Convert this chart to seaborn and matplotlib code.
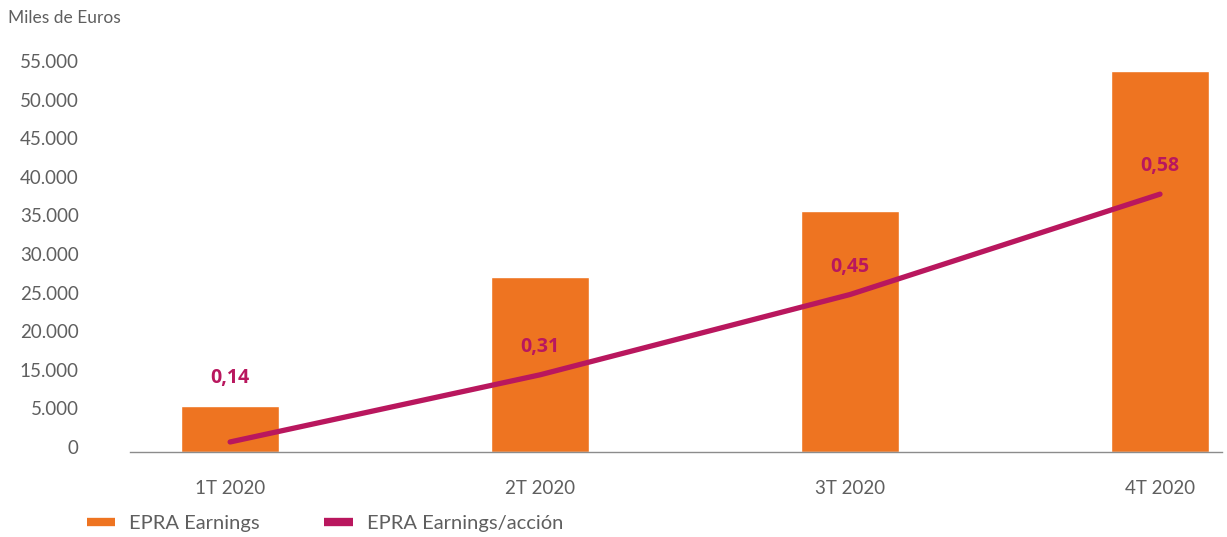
import matplotlib
matplotlib.use("Agg")
import matplotlib.pyplot as plt
import matplotlib.transforms as mtransforms
from matplotlib.lines import Line2D
import pandas as pd
import seaborn as sns

# datos
trimestres = ["1T 2020", "2T 2020", "3T 2020", "4T 2020"]
epra_earnings = [5960, 22700, 31200, 49350]      # altura de barras (escala del eje)
linea_accion = [1300, 10000, 20400, 33400]       # posicion de la linea en el mismo eje
eps_labels = ["0,14", "0,31", "0,45", "0,58"]
ytick_vals = [0, 5000, 10000, 15000, 20000, 25000, 30000, 35000, 40000, 45000, 50000]
ytick_labels = ["0", "5.000", "15.000", "20.000", "25.000", "30.000", "35.000",
                "40.000", "45.000", "50.000", "55.000"]

NARANJA = "#EE7421"
MAGENTA = "#B9175E"
GRIS = "#5f5f5f"

sns.set_style("white")
plt.rcParams["font.family"] = ["Lato", "DejaVu Sans"]

df = pd.DataFrame({"trimestre": trimestres, "earnings": epra_earnings,
                   "accion": linea_accion})

fig = plt.figure(figsize=(12.27, 5.37), dpi=100)
ax = fig.add_axes([130 / 1227, 85 / 537, 1092 / 1227, 424.6 / 537])

sns.barplot(data=df, x="trimestre", y="earnings", color=NARANJA, width=0.316,
            saturation=1, ax=ax)
sns.lineplot(data=df, x="trimestre", y="accion", color=MAGENTA, linewidth=3.8,
             ax=ax, sort=False)

ax.set_xlim(-0.323, 3.2)
ax.set_ylim(0, 55000)
ax.set_yticks(ytick_vals)
ax.set_yticklabels(ytick_labels)
ax.set_xlabel("")
ax.set_ylabel("")
ax.tick_params(axis="y", length=0, pad=37, labelsize=13.5, labelcolor=GRIS)
ax.tick_params(axis="x", length=0, pad=20, labelsize=13.5, labelcolor=GRIS)
shift = mtransforms.ScaledTranslation(0, 5 / 100, fig.dpi_scale_trans)
for lab in ax.get_yticklabels():
    lab.set_transform(lab.get_transform() + shift)

for s in ["top", "right", "left"]:
    ax.spines[s].set_visible(False)
ax.spines["bottom"].set_color("#8c8c8c")
ax.spines["bottom"].set_linewidth(1.0)

for i, lab in enumerate(eps_labels):
    base = epra_earnings[i] if i == 0 else linea_accion[i]
    ax.annotate(lab, (i, base), xytext=(0, 20), textcoords="offset points",
                ha="center", va="center", fontsize=14, fontweight="bold",
                family=["Open Sans", "DejaVu Sans"], color=MAGENTA)

fig.text(8 / 1227, 1 - 18 / 537, "Miles de Euros", fontsize=12.5, color=GRIS,
         ha="left", va="center")

handles = [Line2D([0], [0], color=NARANJA, lw=6, solid_capstyle="butt"),
           Line2D([0], [0], color=MAGENTA, lw=6, solid_capstyle="butt")]
fig.legend(handles, ["EPRA Earnings", "EPRA Earnings/acción"],
           loc="center left", bbox_to_anchor=(69 / 1227, 1 - 523 / 537),
           ncol=2, frameon=False, fontsize=14.5, labelcolor=GRIS,
           handlelength=1.4, handletextpad=0.7, columnspacing=3.2)

fig.savefig("out.png", dpi=100)
